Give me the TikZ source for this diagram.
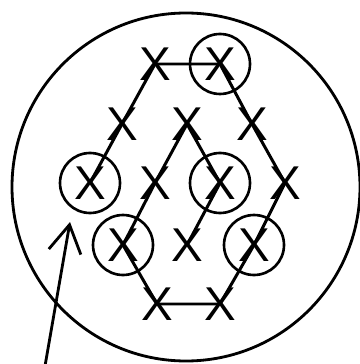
\documentclass[tikz,border=0pt]{standalone}
\usepackage{fontspec}
\setmainfont{Liberation Sans}
\usetikzlibrary{arrows.meta,positioning}
\tikzset{
    cruz/.style={
        inner sep=0pt,            % la X sin margen alrededor
        font=\fontsize{27}{27}\selectfont % X grande, trazo grueso
    },
    cruzmarcada/.style={
        cruz,
        circle,                   % la X va dentro de un circulo
        draw,
        line width=1.5pt,
        minimum size=1.2cm        % radio de unos 30 px
    },
    cadena/.style={
        line width=1.7pt,         % trazo de la cadena entre las X
        line join=round
    }
}
\begin{document}
\begin{tikzpicture}[x=0.02cm,y=-0.02cm]
    \useasboundingbox (0,0) rectangle (359,364);
    % circulo exterior
    \coordinate (centro) at (186,187);
    \draw[line width=1.6pt] (centro) circle[radius=174];
    % red de X
    \node[cruz] (t1) at (155,64) {X};
    \node[cruzmarcada] (t2) at (220,64) {X};
    \node[cruz] (s1) at (122,124) {X};
    \node[cruz] (s2) at (187,124) {X};
    \node[cruz] (s3) at (252,124) {X};
    \node[cruzmarcada] (m1) at (90,183) {X};
    \node[cruz] (m2) at (155,183) {X};
    \node[cruzmarcada] (m3) at (220,183) {X};
    \node[cruz] (m4) at (285,183) {X};
    \node[cruzmarcada] (c1) at (123,245) {X};
    \node[cruz] (c2) at (187,245) {X};
    \node[cruzmarcada] (c3) at (254,245) {X};
    \node[cruz] (b1) at (157,304) {X};
    \node[cruz] (b2) at (220,304) {X};
    % la cadena
    \draw[cadena] (m1.center) -- (s1.center) -- (t1.center) -- (t2.center)
        -- (s3.center) -- (m4.center) -- (c3.center) -- (b2.center)
        -- (b1.center) -- (c1.center) -- (m2.center) -- (s2.center)
        -- (m3.center) -- (c2.center);
    % flecha
    \coordinate (cola) at (45,366);
    \coordinate (punta) at (70,222);
    \draw[line width=1.6pt,-{Straight Barb[length=5.5mm,width=6.5mm]}] (cola) -- (punta);
\end{tikzpicture}
\end{document}
